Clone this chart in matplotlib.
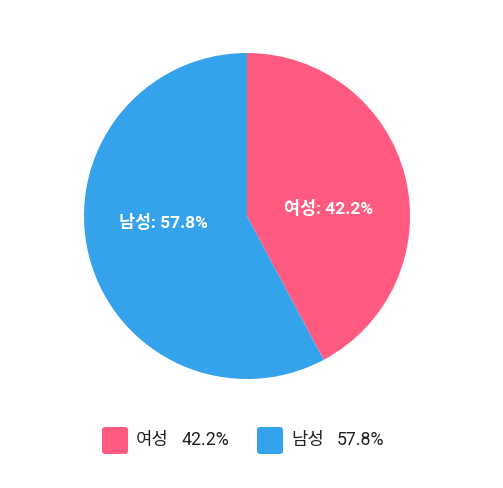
import matplotlib
matplotlib.use("Agg")
import matplotlib.pyplot as plt
from matplotlib.patches import FancyBboxPatch

# data
labels = ["여성", "남성"]
values = [42.2, 57.8]
colors = ["#FF5B80", "#35A2EC"]

fonts = ["Roboto", "Noto Sans CJK KR", "DejaVu Sans"]

W, H = 503, 488
fig = plt.figure(figsize=(W / 100, H / 100), dpi=100)

# pie area: center (247, 216) px, radius 163 px
cx, cy, r = 247, 216, 163
ax = fig.add_axes([(cx - r) / W, (H - cy - r) / H, 2 * r / W, 2 * r / H])
wedges, _ = ax.pie(values, colors=colors, startangle=90, counterclock=False,
                   radius=1, wedgeprops=dict(linewidth=0))
ax.set_xlim(-1, 1)
ax.set_ylim(-1, 1)
ax.set_aspect("equal")
ax.axis("off")

# in-slice labels (pixel positions of text centres)
label_pos = [(329, 208), (163, 222)]
for lab, val, (px, py) in zip(labels, values, label_pos):
    fig.text(px / W, 1 - py / H, f"{lab}: {val:.1f}%", ha="center", va="center",
             color="white", fontsize=12.5, fontweight="bold", family=fonts)

# legend
legend_x = [102, 257]
for lab, val, col, lx in zip(labels, values, colors, legend_x):
    box = FancyBboxPatch((lx / W, 1 - 454 / H), 26 / W, 27 / H,
                         boxstyle="round,pad=0,rounding_size=0.006",
                         transform=fig.transFigure, facecolor=col,
                         edgecolor="none")
    fig.patches.append(box)
    fig.text((lx + 34) / W, 1 - 440 / H, lab, ha="left", va="center",
             fontsize=12.8, color="#222222", family=fonts)
    fig.text((lx + 80) / W, 1 - 440 / H, f"{val:.1f}%", ha="left", va="center",
             fontsize=12.8, color="#222222", family=fonts)

fig.savefig("out.png", dpi=100, facecolor="white")
